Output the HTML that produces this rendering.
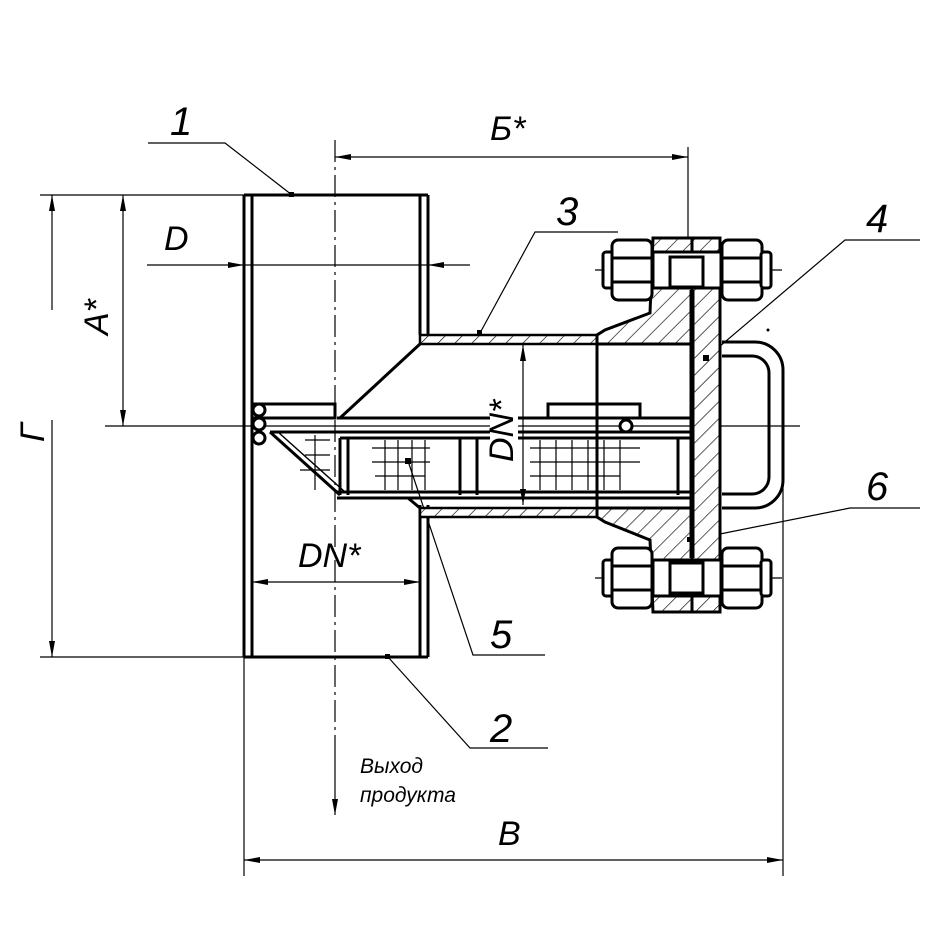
<!DOCTYPE html>
<html><head><meta charset="utf-8"><style>
html,body{margin:0;padding:0;background:#fff}
svg{display:block}
text{font-family:"Liberation Sans",sans-serif;font-style:italic;fill:#000}
</style></head><body>
<svg width="932" height="932" viewBox="0 0 932 932" xmlns="http://www.w3.org/2000/svg">
<defs>
<pattern id="h" patternUnits="userSpaceOnUse" width="12" height="12" patternTransform="rotate(45)">
<rect width="12" height="12" fill="#fff"/><line x1="0" y1="0" x2="0" y2="12" stroke="#000" stroke-width="1.3"/>
</pattern>
<marker id="a" markerWidth="16" markerHeight="8" refX="16" refY="4" orient="auto" markerUnits="userSpaceOnUse">
<path d="M0,1 L16,4 L0,7 Z" fill="#000"/></marker>
</defs>
<g stroke="#000" fill="none">
<g stroke-width="1.2">
<line x1="40" y1="195" x2="244" y2="195"/>
<line x1="40" y1="657" x2="244" y2="657"/>
<line x1="105" y1="426" x2="800" y2="426"/>
<line x1="244" y1="657" x2="244" y2="876"/>
<line x1="783" y1="380" x2="783" y2="876"/>
<line x1="688" y1="147" x2="688" y2="240"/>
<line x1="52" y1="310" x2="52" y2="195" marker-end="url(#a)"/>
<line x1="52" y1="420" x2="52" y2="657" marker-end="url(#a)"/>
<line x1="123" y1="300" x2="123" y2="195" marker-end="url(#a)"/>
<line x1="123" y1="300" x2="123" y2="426" marker-end="url(#a)"/>
<line x1="500" y1="157" x2="335" y2="157" marker-end="url(#a)"/>
<line x1="500" y1="157" x2="688" y2="157" marker-end="url(#a)"/>
<line x1="500" y1="860" x2="244" y2="860" marker-end="url(#a)"/>
<line x1="500" y1="860" x2="783" y2="860" marker-end="url(#a)"/>
<line x1="147" y1="265" x2="244" y2="265" marker-end="url(#a)"/>
<line x1="244" y1="265" x2="428" y2="265"/>
<line x1="470" y1="265" x2="428" y2="265" marker-end="url(#a)"/>
<line x1="335" y1="582" x2="252" y2="582" marker-end="url(#a)"/>
<line x1="335" y1="582" x2="420" y2="582" marker-end="url(#a)"/>
<line x1="523" y1="420" x2="523" y2="345" marker-end="url(#a)"/>
<line x1="523" y1="420" x2="523" y2="505" marker-end="url(#a)"/>
<line x1="335" y1="745" x2="335" y2="815" marker-end="url(#a)"/>
<line x1="335" y1="140" x2="335" y2="745" stroke-dasharray="22,5,3,5"/>
<polyline points="148,143 225,143 292,195"/>
<polyline points="548,748 470,748 388,657"/>
<polyline points="618,232 535,232 480,333"/>
<polyline points="920,240 845,240 706,358"/>
<polyline points="545,655 473,655 408,461"/>
<polyline points="920,508 850,508 690,540"/>
<line x1="595" y1="270" x2="782" y2="270"/>
<line x1="595" y1="578" x2="782" y2="578"/>
</g>
<g stroke-width="3">
<line x1="244" y1="195" x2="244" y2="657"/>
<line x1="252" y1="195" x2="252" y2="657"/>
<line x1="244" y1="195" x2="428" y2="195"/>
<line x1="244" y1="657" x2="428" y2="657"/>
<line x1="420" y1="195" x2="420" y2="335"/>
<line x1="428" y1="195" x2="428" y2="335"/>
<line x1="420" y1="505" x2="420" y2="657"/>
<line x1="428" y1="505" x2="428" y2="657"/>
</g>
<rect x="420" y="335" width="177" height="9" fill="url(#h)" stroke-width="2.5"/>
<rect x="420" y="508" width="177" height="9" fill="url(#h)" stroke-width="2.5"/>
<path d="M597,335 L597,344 L692,344 L692,238 L653,238 L650,313 L605,330 Z" fill="url(#h)" stroke-width="3"/>
<path d="M597,517 L597,508 L692,508 L692,612 L653,612 L650,540 L605,522 Z" fill="url(#h)" stroke-width="3"/>
<rect x="692" y="238" width="28" height="374" fill="url(#h)" stroke-width="3"/>
<line x1="692" y1="290" x2="692" y2="558" stroke-width="5"/>
<line x1="597" y1="344" x2="597" y2="508" stroke-width="3"/>
<g stroke-width="3">
<line x1="420" y1="344" x2="340" y2="418"/>
<line x1="337" y1="418" x2="690" y2="418"/>
<line x1="270" y1="432" x2="690" y2="432"/>
<line x1="337" y1="492" x2="690" y2="492"/>
<line x1="337" y1="498" x2="690" y2="498"/>
<line x1="420" y1="508" x2="408" y2="498"/>
<line x1="270" y1="432" x2="340" y2="495"/>
<line x1="278" y1="432" x2="345" y2="492" stroke-width="1.5"/>
<line x1="340" y1="438" x2="340" y2="495"/>
<line x1="348" y1="438" x2="348" y2="495"/>
<line x1="340" y1="438" x2="690" y2="438"/>
<line x1="460" y1="438" x2="460" y2="495"/>
<line x1="477" y1="438" x2="477" y2="495"/>
<line x1="678" y1="438" x2="678" y2="495"/>
<rect x="252" y="404" width="83" height="14"/>
<rect x="548" y="404" width="92" height="14"/>
<line x1="597" y1="344" x2="597" y2="404"/>
<circle cx="259" cy="410" r="6" fill="#fff"/>
<circle cx="259" cy="424" r="6" fill="#fff"/>
<circle cx="259" cy="438" r="6" fill="#fff"/>
<circle cx="626" cy="426" r="6" fill="#fff"/>
</g>
<g stroke-width="1.2">
<path d="M372,448 H430 M372,462 H430 M375,476 H425 M385,440 V490 M398,440 V490 M412,440 V490 M425,440 V490"/>
<path d="M530,448 H640 M530,462 H640 M530,476 H620 M540,440 V490 M556,440 V490 M572,440 V490 M588,440 V490 M604,440 V490 M620,440 V490"/>
<path d="M305,440 H330 M305,455 H330 M300,470 H330 M315,435 V490"/>
</g>
<path d="M722,342 H755 A28,28 0 0 1 783,370 V480 A28,28 0 0 1 755,508 H722" stroke-width="3"/>
<path d="M722,356 H752 A17,17 0 0 1 769,373 V477 A17,17 0 0 1 752,494 H722" stroke-width="3"/>
<g stroke-width="3" fill="#fff">
<rect x="603" y="252" width="10" height="36" rx="3"/><rect x="612" y="240" width="40" height="60" rx="6"/><line x1="612" y1="258" x2="652" y2="258"/><line x1="612" y1="282" x2="652" y2="282"/>
<rect x="653" y="252" width="68" height="36"/><rect x="670" y="257" width="33" height="30"/>
<rect x="722" y="240" width="40" height="60" rx="6"/><rect x="761" y="252" width="10" height="36" rx="3"/><line x1="722" y1="258" x2="762" y2="258"/><line x1="722" y1="282" x2="762" y2="282"/>
<rect x="603" y="560" width="10" height="36" rx="3"/><rect x="612" y="548" width="40" height="60" rx="6"/><line x1="612" y1="566" x2="652" y2="566"/><line x1="612" y1="590" x2="652" y2="590"/>
<rect x="653" y="560" width="68" height="36"/><rect x="670" y="563" width="33" height="30"/>
<rect x="722" y="548" width="40" height="60" rx="6"/><rect x="761" y="560" width="10" height="36" rx="3"/><line x1="722" y1="566" x2="762" y2="566"/><line x1="722" y1="590" x2="762" y2="590"/>
</g>
<g fill="#000" stroke="none">
<rect x="289" y="192" width="5" height="5"/><rect x="385" y="654" width="5" height="5"/><rect x="477" y="330" width="5" height="5"/>
<rect x="703" y="355" width="6" height="6"/><rect x="405" y="458" width="6" height="6"/><rect x="687" y="537" width="5" height="5"/>
<circle cx="768" cy="330" r="1.5"/>
</g>
</g>
<rect x="490" y="390" width="28" height="70" fill="#fff"/>
<g font-size="40">
<text x="170" y="135">1</text>
<text x="490" y="742">2</text>
<text x="556" y="225">3</text>
<text x="866" y="232">4</text>
<text x="490" y="648">5</text>
<text x="866" y="500">6</text>
</g>
<g font-size="34">
<text x="490" y="140">Б*</text>
<text x="164" y="250">D</text>
<text x="298" y="567">DN*</text>
<text x="498" y="845">B</text>
<text transform="translate(108,335) rotate(-90)">A*</text>
<text transform="translate(44,442) rotate(-90)">Г</text>
<text transform="translate(513,462) rotate(-90)">DN*</text>
</g>
<text x="360" y="773" font-size="21">Выход</text>
<text x="360" y="802" font-size="21">продукта</text>
</svg>
</body></html>
